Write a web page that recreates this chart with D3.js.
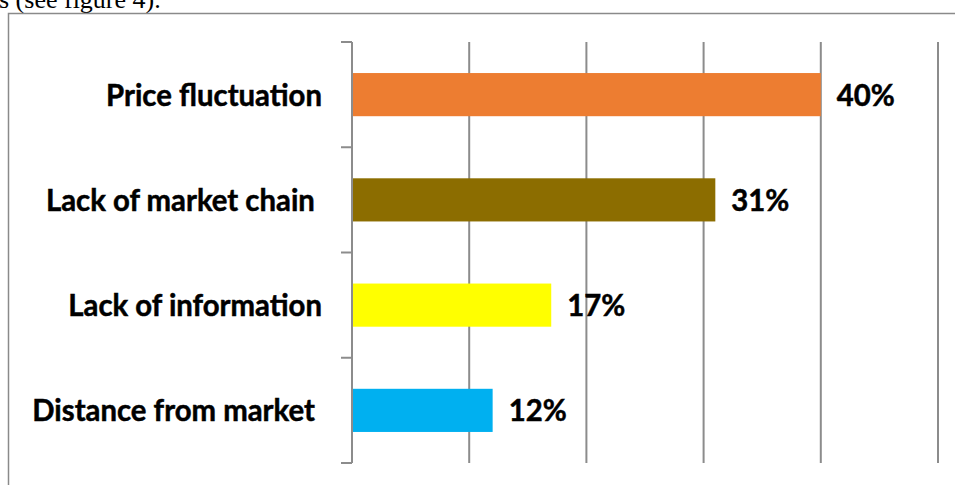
<!DOCTYPE html>
<html>
<head>
<meta charset="utf-8">
<script src="https://cdn.jsdelivr.net/npm/d3@7"></script>
<style>
  html, body { margin: 0; padding: 0; background: #fff; }
  svg { display: block; }
  .cat { white-space: pre; }
</style>
</head>
<body>
<svg id="chart" width="955" height="485"></svg>
<script>
// Problems reported by respondents (share of answers)
const categories = ["Price fluctuation", "Lack of market chain ", "Lack of information", "Distance from market "];
const shares = [0.40, 0.31, 0.17, 0.12];
const valueLabels = ["40%", "31%", "17%", "12%"];
const barColors = ["#ED7D31", "#8C6D00", "#FFFF00", "#00B0F0"];
const gridTicks = [0.1, 0.2, 0.3, 0.4, 0.5];

const svg = d3.select("#chart");
const W = 955, H = 485;
const plot = { left: 352, right: 938, top: 42, bottom: 463 };

// Running text of the document above the figure
svg.append("text")
  .attr("x", -1).attr("y", 8)
  .attr("font-family", "'Liberation Serif', 'Times New Roman', serif")
  .attr("font-size", 26)
  .attr("fill", "#000")
  .text("s (see figure 4).");

// Figure frame
svg.append("path")
  .attr("d", `M8.5,${H + 2} V13.5 H${W + 2}`)
  .attr("fill", "none")
  .attr("stroke", "#8a8a8a")
  .attr("stroke-width", 1.5);

const x = d3.scaleLinear().domain([0, 0.5]).range([plot.left, plot.right]);
const y = d3.scaleBand().domain(categories).range([plot.top, plot.bottom]).padding(0);

// Vertical gridlines
svg.append("g")
  .selectAll("line")
  .data(gridTicks)
  .join("line")
  .attr("x1", d => x(d)).attr("x2", d => x(d))
  .attr("y1", plot.top).attr("y2", plot.bottom)
  .attr("stroke", "#8c8c8c")
  .attr("stroke-width", 2);

// Bars
const barH = y.bandwidth() * 0.41;
svg.append("g")
  .selectAll("rect")
  .data(categories)
  .join("rect")
  .attr("x", x(0))
  .attr("y", d => y(d) + (y.bandwidth() - barH) / 2)
  .attr("width", (d, i) => x(shares[i]) - x(0))
  .attr("height", barH)
  .attr("fill", (d, i) => barColors[i]);

// Category axis: line plus tick marks on the band boundaries
const bounds = categories.map(c => y(c)).concat([plot.bottom]);
const axis = svg.append("g");
axis.append("line")
  .attr("x1", x(0)).attr("x2", x(0))
  .attr("y1", plot.top).attr("y2", plot.bottom)
  .attr("stroke", "#8c8c8c").attr("stroke-width", 2);
axis.selectAll("line.tick")
  .data(bounds)
  .join("line")
  .attr("class", "tick")
  .attr("x1", x(0) - 11).attr("x2", x(0))
  .attr("y1", d => d).attr("y2", d => d)
  .attr("stroke", "#8c8c8c").attr("stroke-width", 2);

const labelFont = "Lato, 'Open Sans', sans-serif";
const labelSize = 30;

// Category labels, right aligned to the axis
const cats = svg.append("g")
  .selectAll("text")
  .data(categories)
  .join("text")
  .attr("class", "cat")
  .attr("font-family", labelFont)
  .attr("font-weight", "bold")
  .attr("font-size", labelSize)
  .attr("fill", "#000")
  .attr("stroke", "#000")
  .attr("stroke-width", 0.5)
  .attr("text-anchor", "end")
  .attr("transform", d => `translate(322,${y(d) + y.bandwidth() / 2 + 11})`)
  .text(d => d);

// Condense the substitute face to the width of the original narrow face
const probe = cats.filter((d, i) => i === 0).node().getComputedTextLength();
const squeeze = 216 / probe;
cats.attr("transform", d => `translate(322,${y(d) + y.bandwidth() / 2 + 11}) scale(${squeeze},1)`);

// Value labels at the bar ends
svg.append("g")
  .selectAll("text")
  .data(categories)
  .join("text")
  .attr("font-family", labelFont)
  .attr("font-weight", "bold")
  .attr("font-size", labelSize)
  .attr("fill", "#000")
  .attr("stroke", "#000")
  .attr("stroke-width", 0.5)
  .attr("transform", (d, i) => `translate(${x(shares[i]) + 16},${y(d) + y.bandwidth() / 2 + 11}) scale(${squeeze},1)`)
  .text((d, i) => valueLabels[i]);
</script>
</body>
</html>
